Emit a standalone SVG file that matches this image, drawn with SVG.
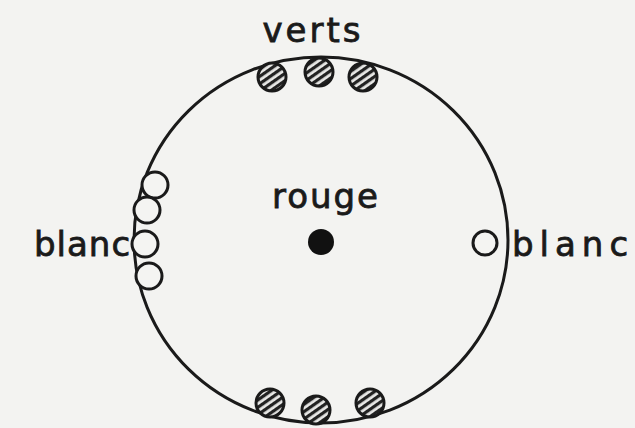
<svg xmlns="http://www.w3.org/2000/svg" width="635" height="428" viewBox="0 0 635 428">
<style>
.lbl{font-family:"DejaVu Sans",sans-serif;font-size:34px;fill:#1a1a1a;stroke:#1a1a1a;stroke-width:0.8}
.hb{fill:url(#hatch);stroke:#1a1a1a;stroke-width:3}
.wb{fill:#f4f4f2;stroke:#1a1a1a;stroke-width:3}
</style>
<defs>
<pattern id="hatch" patternUnits="userSpaceOnUse" width="6" height="6" patternTransform="rotate(-35)">
<rect width="6" height="6" fill="#e8e8e6"/>
<rect width="6" height="3.2" fill="#222"/>
</pattern>
</defs>
<rect width="635" height="428" fill="#f3f3f1"/>
<g id="board"><ellipse cx="321" cy="240" rx="187" ry="183" fill="none" stroke="#1a1a1a" stroke-width="3"/></g>
<g id="verts">
<text class="lbl" x="313" y="42" text-anchor="middle" letter-spacing="3">verts</text>
<circle class="hb" cx="272" cy="77" r="14"/>
<circle class="hb" cx="319" cy="72" r="14"/>
<circle class="hb" cx="363" cy="77" r="14"/>
<circle class="hb" cx="270" cy="403" r="14"/>
<circle class="hb" cx="316" cy="410" r="14"/>
<circle class="hb" cx="370" cy="403" r="14"/>
</g>
<g id="rouge">
<text class="lbl" x="326" y="208" text-anchor="middle" letter-spacing="2">rouge</text>
<circle cx="321" cy="242" r="13" fill="#111"/>
</g>
<g id="blanc-left">
<text class="lbl" x="34" y="256" letter-spacing="1">blanc</text>
<circle class="wb" cx="155" cy="185" r="13"/>
<circle class="wb" cx="147" cy="210" r="13"/>
<circle class="wb" cx="145" cy="244" r="13"/>
<circle class="wb" cx="149" cy="276" r="13"/>
</g>
<g id="blanc-right">
<circle class="wb" cx="485" cy="243" r="12"/>
<text class="lbl" x="512" y="256" letter-spacing="6">blanc</text>
</g>
</svg>
